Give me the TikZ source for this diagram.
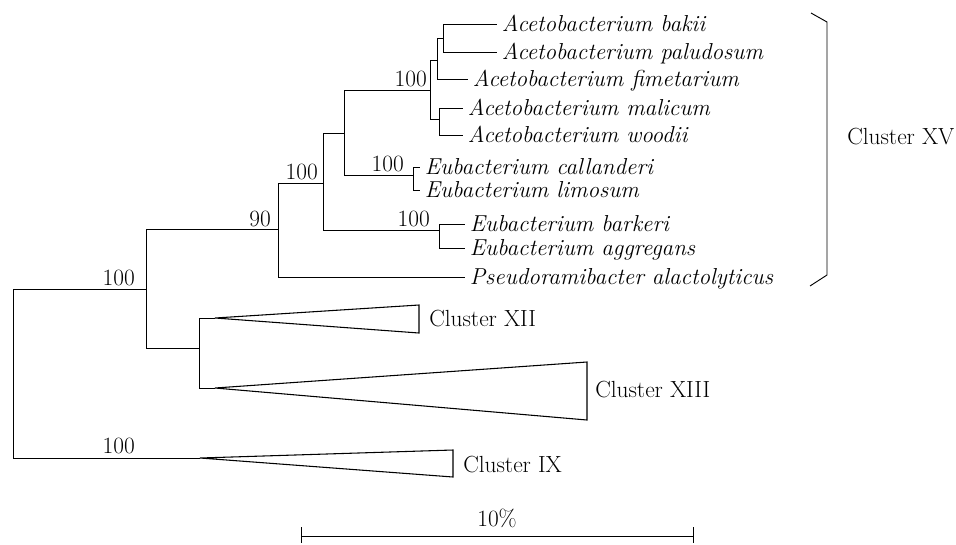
\documentclass[tikz,border=0pt]{standalone}
\usepackage{tikz}
\newcommand{\leaffont}{\fontsize{17.3}{20}\selectfont\itshape}
\newcommand{\romfont}{\fontsize{17.5}{21}\selectfont}

\begin{document}
\begin{tikzpicture}[
  x=0.75pt,y=-0.75pt,
  br/.style={line width=0.7pt},
  tri/.style={line width=0.8pt,fill=white,line join=miter},
  leaf/.style={anchor=west,font=\leaffont,inner xsep=3.5pt,inner ysep=0pt,text height=11.8pt,text depth=0pt},
  num/.style={anchor=south east,font=\romfont,inner sep=0pt},
  clu/.style={anchor=west,font=\romfont,inner sep=0pt}]
  \useasboundingbox (0,0) rectangle (956,544);
  % internal nodes
  \coordinate (r) at (13,373);
  \coordinate (a) at (146,289);
  \coordinate (b) at (278,229);
  \coordinate (c) at (323,183);
  \coordinate (d) at (344,133);
  \coordinate (g) at (430,90);
  \coordinate (i) at (437,60);
  \coordinate (k) at (443,38);
  \coordinate (j) at (439,119);
  \coordinate (h) at (413,175);
  \coordinate (f) at (439,230);
  \coordinate (e) at (199,348);
  \coordinate (xii) at (215,318);
  \coordinate (xiii) at (215,388);
  \coordinate (ix) at (200,458);
  % leaves
  \node[leaf] (bak) at (497,24) {Acetobacterium bakii};
  \node[leaf] (pal) at (497,52) {Acetobacterium paludosum};
  \node[leaf] (fim) at (468,79) {Acetobacterium fimetarium};
  \node[leaf] (mal) at (463,108) {Acetobacterium malicum};
  \node[leaf] (woo) at (463,135) {Acetobacterium woodii};
  \node[leaf] (cal) at (420,167) {Eubacterium callanderi};
  \node[leaf] (lim) at (420,190) {Eubacterium limosum};
  \node[leaf] (bar) at (465,224) {Eubacterium barkeri};
  \node[leaf] (agg) at (465,248) {Eubacterium aggregans};
  \node[leaf] (pse) at (465,277) {Pseudoramibacter alactolyticus};
  % branches
  \draw[br] (r) |- (a);
  \draw[br] (r) |- (ix);
  \draw[br] (a) |- (b);
  \draw[br] (a) |- (e);
  \draw[br] (b) |- (c);
  \draw[br] (b) |- (pse.west);
  \draw[br] (c) |- (d);
  \draw[br] (c) |- (f);
  \draw[br] (d) |- (g);
  \draw[br] (d) |- (h);
  \draw[br] (g) |- (i);
  \draw[br] (g) |- (j);
  \draw[br] (i) |- (k);
  \draw[br] (i) |- (fim.west);
  \draw[br] (k) |- (bak.west);
  \draw[br] (k) |- (pal.west);
  \draw[br] (j) |- (mal.west);
  \draw[br] (j) |- (woo.west);
  \draw[br] (h) |- (cal.west);
  \draw[br] (h) |- (lim.west);
  \draw[br] (f) |- (bar.west);
  \draw[br] (f) |- (agg.west);
  \draw[br] (e) |- (xii);
  \draw[br] (e) |- (xiii);
  % collapsed clusters
  \draw[tri] (xii) -- (419,305) -- (419,333) -- cycle;
  \draw[tri] (xiii) -- (587,362) -- (587,420) -- cycle;
  \draw[tri] (ix) -- (453,450) -- (453,477) -- cycle;
  \node[clu] (cxii) at (429,319) {Cluster XII};
  \node[clu] (cxiii) at (595,390) {Cluster XIII};
  \node[clu] (cix) at (463,465) {Cluster IX};
  % bootstrap values
  \node[num] (na) at (135,286) {100};
  \node[num] (nix) at (135,454) {100};
  \node[num] (nb) at (271,227) {90};
  \node[num] (nc) at (318,180) {100};
  \node[num] (ng) at (427,87) {100};
  \node[num] (nh) at (404,172) {100};
  \node[num] (nf) at (430,227) {100};
  % bracket
  \draw[br] (811,13) -- (827,22) -- (827,275) -- (810,286);
  \node[clu] (cxv) at (847,137) {Cluster XV};
  % scale bar
  \coordinate (s1) at (301,536);
  \coordinate (s2) at (693,536);
  \draw[br] (s1) -- (s2);
  \draw[br] (s1) ++(0,-9) -- ++(0,16);
  \draw[br] (s2) ++(0,-9) -- ++(0,16);
  \node[font=\romfont,inner sep=0pt] (pct) at (497,518) {10\%};
\end{tikzpicture}
\end{document}
